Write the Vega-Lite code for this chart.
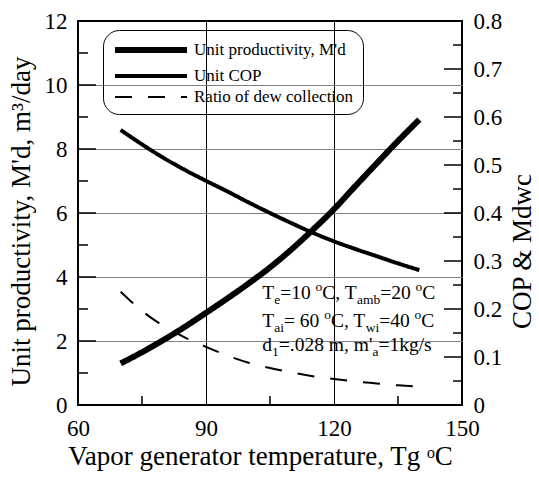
{
  "$schema": "https://vega.github.io/schema/vega-lite/v6.json",
  "width": 384,
  "height": 384,
  "autosize": {"type": "none"},
  "padding": {"left": 78, "top": 21, "right": 77, "bottom": 74},
  "config": {
    "font": "Liberation Serif",
    "background": "white",
    "view": {"stroke": "black", "strokeWidth": 2},
    "axis": {
      "domainColor": "black", "domainWidth": 2,
      "tickColor": "black", "tickWidth": 1.5,
      "labelColor": "black", "titleColor": "black",
      "labelFont": "Liberation Serif", "titleFont": "Liberation Serif",
      "labelFontSize": 23, "titleFontSize": 27, "titleFontWeight": "normal",
      "labelFlush": false, "labelOverlap": false
    },
    "text": {"font": "Liberation Serif"}
  },
  "datasets": {
    "curves": [
      {"T": 70, "series": "Unit productivity, M'd", "value": 1.30},
      {"T": 75, "series": "Unit productivity, M'd", "value": 1.65},
      {"T": 80, "series": "Unit productivity, M'd", "value": 2.03},
      {"T": 85, "series": "Unit productivity, M'd", "value": 2.44},
      {"T": 90, "series": "Unit productivity, M'd", "value": 2.88},
      {"T": 95, "series": "Unit productivity, M'd", "value": 3.33},
      {"T": 100, "series": "Unit productivity, M'd", "value": 3.80},
      {"T": 105, "series": "Unit productivity, M'd", "value": 4.30},
      {"T": 110, "series": "Unit productivity, M'd", "value": 4.86},
      {"T": 115, "series": "Unit productivity, M'd", "value": 5.47},
      {"T": 120, "series": "Unit productivity, M'd", "value": 6.12},
      {"T": 125, "series": "Unit productivity, M'd", "value": 6.84},
      {"T": 130, "series": "Unit productivity, M'd", "value": 7.55},
      {"T": 135, "series": "Unit productivity, M'd", "value": 8.25},
      {"T": 140, "series": "Unit productivity, M'd", "value": 8.92},
      {"T": 70, "series": "Unit COP", "value": 0.573},
      {"T": 75, "series": "Unit COP", "value": 0.543},
      {"T": 80, "series": "Unit COP", "value": 0.515},
      {"T": 85, "series": "Unit COP", "value": 0.490},
      {"T": 90, "series": "Unit COP", "value": 0.467},
      {"T": 95, "series": "Unit COP", "value": 0.445},
      {"T": 100, "series": "Unit COP", "value": 0.422},
      {"T": 105, "series": "Unit COP", "value": 0.400},
      {"T": 110, "series": "Unit COP", "value": 0.379},
      {"T": 115, "series": "Unit COP", "value": 0.359},
      {"T": 120, "series": "Unit COP", "value": 0.341},
      {"T": 125, "series": "Unit COP", "value": 0.325},
      {"T": 130, "series": "Unit COP", "value": 0.310},
      {"T": 135, "series": "Unit COP", "value": 0.295},
      {"T": 140, "series": "Unit COP", "value": 0.281},
      {"T": 70, "series": "Ratio of dew collection", "value": 0.236},
      {"T": 75, "series": "Ratio of dew collection", "value": 0.196},
      {"T": 80, "series": "Ratio of dew collection", "value": 0.165},
      {"T": 85, "series": "Ratio of dew collection", "value": 0.141},
      {"T": 90, "series": "Ratio of dew collection", "value": 0.121},
      {"T": 95, "series": "Ratio of dew collection", "value": 0.103},
      {"T": 100, "series": "Ratio of dew collection", "value": 0.088},
      {"T": 105, "series": "Ratio of dew collection", "value": 0.077},
      {"T": 110, "series": "Ratio of dew collection", "value": 0.068},
      {"T": 115, "series": "Ratio of dew collection", "value": 0.060},
      {"T": 120, "series": "Ratio of dew collection", "value": 0.054},
      {"T": 125, "series": "Ratio of dew collection", "value": 0.049},
      {"T": 130, "series": "Ratio of dew collection", "value": 0.045},
      {"T": 135, "series": "Ratio of dew collection", "value": 0.041},
      {"T": 140, "series": "Ratio of dew collection", "value": 0.038}
    ],
    "notes": [
      {"x": 103.2, "y": 3.31, "t": "T", "role": "m"},
      {"x": 105.99, "y": 3.31, "t": "e", "role": "sub"},
      {"x": 107.40, "y": 3.31, "t": "=10", "role": "m"},
      {"x": 115.68, "y": 3.31, "t": "o", "role": "sup"},
      {"x": 117.27, "y": 3.31, "t": "C, T", "role": "m"},
      {"x": 125.39, "y": 3.31, "t": "amb", "role": "sub"},
      {"x": 130.84, "y": 3.31, "t": "=20", "role": "m"},
      {"x": 139.13, "y": 3.31, "t": "o", "role": "sup"},
      {"x": 140.71, "y": 3.31, "t": "C", "role": "m"},
      {"x": 103.2, "y": 2.45, "t": "T", "role": "m"},
      {"x": 105.99, "y": 2.45, "t": "ai", "role": "sub"},
      {"x": 108.28, "y": 2.45, "t": "= 60", "role": "m"},
      {"x": 117.71, "y": 2.45, "t": "o", "role": "sup"},
      {"x": 119.29, "y": 2.45, "t": "C, T", "role": "m"},
      {"x": 127.42, "y": 2.45, "t": "wi", "role": "sub"},
      {"x": 130.58, "y": 2.45, "t": "=40", "role": "m"},
      {"x": 138.87, "y": 2.45, "t": "o", "role": "sup"},
      {"x": 140.45, "y": 2.45, "t": "C", "role": "m"},
      {"x": 103.2, "y": 1.69, "t": "d", "role": "m"},
      {"x": 105.49, "y": 1.69, "t": "1", "role": "sub"},
      {"x": 107.07, "y": 1.69, "t": "=.028 m, m'", "role": "m"},
      {"x": 129.0, "y": 1.69, "t": "a", "role": "sub"},
      {"x": 130.41, "y": 1.69, "t": "=1kg/s", "role": "m"}
    ],
    "ticks": [
      {"side": "left", "kind": "major", "v": 2},
      {"side": "left", "kind": "major", "v": 4},
      {"side": "left", "kind": "major", "v": 6},
      {"side": "left", "kind": "major", "v": 8},
      {"side": "left", "kind": "major", "v": 10},
      {"side": "left", "kind": "minor", "v": 1},
      {"side": "left", "kind": "minor", "v": 3},
      {"side": "left", "kind": "minor", "v": 5},
      {"side": "left", "kind": "minor", "v": 7},
      {"side": "left", "kind": "minor", "v": 9},
      {"side": "left", "kind": "minor", "v": 11},
      {"side": "bottom", "kind": "minor", "v": 75},
      {"side": "bottom", "kind": "minor", "v": 105},
      {"side": "bottom", "kind": "minor", "v": 135},
      {"side": "right", "kind": "major", "v": 0.1},
      {"side": "right", "kind": "major", "v": 0.2},
      {"side": "right", "kind": "major", "v": 0.3},
      {"side": "right", "kind": "major", "v": 0.4},
      {"side": "right", "kind": "major", "v": 0.5},
      {"side": "right", "kind": "major", "v": 0.6},
      {"side": "right", "kind": "major", "v": 0.7},
      {"side": "right", "kind": "minor", "v": 0.05},
      {"side": "right", "kind": "minor", "v": 0.15},
      {"side": "right", "kind": "minor", "v": 0.25},
      {"side": "right", "kind": "minor", "v": 0.35},
      {"side": "right", "kind": "minor", "v": 0.45},
      {"side": "right", "kind": "minor", "v": 0.55},
      {"side": "right", "kind": "minor", "v": 0.65},
      {"side": "right", "kind": "minor", "v": 0.75}
    ]
  },
  "layer": [
    {
      "layer": [
        {
          "data": {"name": "curves"},
          "transform": [{"filter": {"field": "series", "equal": "Unit productivity, M'd"}}],
          "mark": {"type": "line", "interpolate": "monotone", "stroke": "black"},
          "encoding": {
            "x": {
              "field": "T", "type": "quantitative",
              "scale": {"domain": [60, 150], "nice": false},
              "axis": {
                "orient": "bottom",
                "values": [60, 90, 120, 150],
                "ticks": false, "tickSize": 0, "labelPadding": 12,
                "domain": false, "grid": false,
                "title": "Vapor generator temperature, Tg ᵒC",
                "titlePadding": 3, "titleX": 182
              }
            },
            "y": {
              "field": "value", "type": "quantitative",
              "scale": {"domain": [0, 12], "nice": false},
              "axis": {
                "orient": "left",
                "values": [0, 2, 4, 6, 8, 10, 12],
                "ticks": false, "tickSize": 0, "labelPadding": 11,
                "domain": false, "grid": false,
                "title": "Unit productivity, M'd, m³/day",
                "titlePadding": 9, "titleY": 200
              }
            },
            "strokeWidth": {
              "field": "series", "type": "nominal",
              "scale": {"domain": ["Unit productivity, M'd", "Unit COP", "Ratio of dew collection"], "range": [6, 2, 2]},
              "legend": {
                "orient": "none", "legendX": 25, "legendY": 9, "title": null,
                "symbolType": "M-4.5,0H4.5", "symbolSize": 256, "symbolOffset": 28, "symbolStrokeColor": "black", "symbolFillColor": "transparent",
                "labelFont": "Liberation Serif", "labelFontSize": 17, "labelColor": "black", "labelLimit": 400, "labelOffset": 32,
                "strokeColor": "black", "cornerRadius": 16, "padding": 9, "rowPadding": 4
              }
            },
            "strokeDash": {
              "field": "series", "type": "nominal",
              "scale": {"domain": ["Unit productivity, M'd", "Unit COP", "Ratio of dew collection"], "range": [[1, 0], [1, 0], [17, 16]]},
              "legend": {
                "orient": "none", "legendX": 25, "legendY": 9, "title": null,
                "symbolType": "M-4.5,0H4.5", "symbolSize": 256, "symbolOffset": 28, "symbolStrokeColor": "black", "symbolFillColor": "transparent",
                "labelFont": "Liberation Serif", "labelFontSize": 17, "labelColor": "black", "labelLimit": 400, "labelOffset": 32,
                "strokeColor": "black", "cornerRadius": 16, "padding": 9, "rowPadding": 4
              }
            }
          }
        },
        {
          "data": {"name": "notes"},
          "transform": [{"filter": {"field": "role", "equal": "m"}}],
          "mark": {"type": "text", "align": "left", "baseline": "alphabetic", "fontSize": 19.5, "fill": "black"},
          "encoding": {
            "x": {
              "field": "x", "type": "quantitative", "scale": {"domain": [60, 150], "nice": false},
              "axis": {"orient": "bottom", "values": [90, 120], "labels": false, "ticks": false, "domain": false, "grid": true, "gridColor": "black", "gridWidth": 1, "title": null}
            },
            "y": {
              "field": "y", "type": "quantitative", "scale": {"domain": [0, 12], "nice": false},
              "axis": {"orient": "left", "values": [2, 4, 6, 8, 10], "labels": false, "ticks": false, "domain": false, "grid": true, "gridColor": "#808080", "gridWidth": 1.2, "title": null}
            },
            "text": {"field": "t"}
          }
        },
        {
          "data": {"name": "notes"},
          "transform": [{"filter": {"field": "role", "equal": "sub"}}],
          "mark": {"type": "text", "align": "left", "baseline": "alphabetic", "fontSize": 13.5, "dy": 5, "fill": "black"},
          "encoding": {
            "x": {"field": "x", "type": "quantitative", "scale": {"domain": [60, 150], "nice": false}, "axis": null},
            "y": {"field": "y", "type": "quantitative", "scale": {"domain": [0, 12], "nice": false}, "axis": null},
            "text": {"field": "t"}
          }
        },
        {
          "data": {"name": "notes"},
          "transform": [{"filter": {"field": "role", "equal": "sup"}}],
          "mark": {"type": "text", "align": "left", "baseline": "alphabetic", "fontSize": 13.5, "dy": -8, "fill": "black"},
          "encoding": {
            "x": {"field": "x", "type": "quantitative", "scale": {"domain": [60, 150], "nice": false}, "axis": null},
            "y": {"field": "y", "type": "quantitative", "scale": {"domain": [0, 12], "nice": false}, "axis": null},
            "text": {"field": "t"}
          }
        },
        {
          "data": {"name": "ticks"},
          "transform": [{"filter": "datum.side === 'left' && datum.kind === 'major'"}],
          "mark": {"type": "tick", "orient": "horizontal", "size": 36, "thickness": 1.5, "color": "black", "opacity": 1, "clip": true},
          "encoding": {
            "x": {"datum": 60, "type": "quantitative", "scale": {"domain": [60, 150], "nice": false}, "axis": null},
            "y": {"field": "v", "type": "quantitative", "scale": {"domain": [0, 12], "nice": false}, "axis": null}
          }
        },
        {
          "data": {"name": "ticks"},
          "transform": [{"filter": "datum.side === 'left' && datum.kind === 'minor'"}],
          "mark": {"type": "tick", "orient": "horizontal", "size": 20, "thickness": 1.5, "color": "black", "opacity": 1, "clip": true},
          "encoding": {
            "x": {"datum": 60, "type": "quantitative", "scale": {"domain": [60, 150], "nice": false}, "axis": null},
            "y": {"field": "v", "type": "quantitative", "scale": {"domain": [0, 12], "nice": false}, "axis": null}
          }
        },
        {
          "data": {"name": "ticks"},
          "transform": [{"filter": "datum.side === 'bottom'"}],
          "mark": {"type": "tick", "orient": "vertical", "size": 18, "thickness": 1.5, "color": "black", "opacity": 1, "clip": true},
          "encoding": {
            "x": {"field": "v", "type": "quantitative", "scale": {"domain": [60, 150], "nice": false}, "axis": null},
            "y": {"datum": 0, "type": "quantitative", "scale": {"domain": [0, 12], "nice": false}, "axis": null}
          }
        }
      ],
      "resolve": {"axis": {"x": "independent", "y": "independent"}}
    },
    {
      "layer": [
        {
          "data": {"name": "curves"},
          "transform": [{"filter": {"field": "series", "oneOf": ["Unit COP", "Ratio of dew collection"]}}],
          "mark": {"type": "line", "interpolate": "monotone", "stroke": "black"},
          "encoding": {
            "x": {"field": "T", "type": "quantitative", "scale": {"domain": [60, 150], "nice": false}, "axis": null},
            "y": {
              "field": "value", "type": "quantitative",
              "scale": {"domain": [0, 0.8], "nice": false},
              "axis": {
                "orient": "right",
                "values": [0, 0.1, 0.2, 0.3, 0.4, 0.5, 0.6, 0.7, 0.8],
                "format": ".1~f",
                "ticks": false, "tickSize": 0, "labelPadding": 11,
                "domain": false, "grid": false,
                "title": "COP & Mdwc",
                "titleAngle": 270,
                "titleBaseline": "top",
                "titleY": 230,
                "titlePadding": 8
              }
            },
            "strokeWidth": {
              "field": "series", "type": "nominal",
              "scale": {"domain": ["Unit productivity, M'd", "Unit COP", "Ratio of dew collection"], "range": [6, 2, 2]},
              "legend": {
                "orient": "none", "legendX": 25, "legendY": 9, "title": null,
                "symbolType": "M-4.5,0H4.5", "symbolSize": 256, "symbolOffset": 28, "symbolStrokeColor": "black", "symbolFillColor": "transparent",
                "labelFont": "Liberation Serif", "labelFontSize": 17, "labelColor": "black", "labelLimit": 400, "labelOffset": 32,
                "strokeColor": "black", "cornerRadius": 16, "padding": 9, "rowPadding": 4
              }
            },
            "strokeDash": {
              "field": "series", "type": "nominal",
              "scale": {"domain": ["Unit productivity, M'd", "Unit COP", "Ratio of dew collection"], "range": [[1, 0], [1, 0], [17, 16]]},
              "legend": {
                "orient": "none", "legendX": 25, "legendY": 9, "title": null,
                "symbolType": "M-4.5,0H4.5", "symbolSize": 256, "symbolOffset": 28, "symbolStrokeColor": "black", "symbolFillColor": "transparent",
                "labelFont": "Liberation Serif", "labelFontSize": 17, "labelColor": "black", "labelLimit": 400, "labelOffset": 32,
                "strokeColor": "black", "cornerRadius": 16, "padding": 9, "rowPadding": 4
              }
            }
          }
        },
        {
          "data": {"name": "ticks"},
          "transform": [{"filter": "datum.side === 'right' && datum.kind === 'major'"}],
          "mark": {"type": "tick", "orient": "horizontal", "size": 36, "thickness": 1.5, "color": "black", "opacity": 1, "clip": true},
          "encoding": {
            "x": {"datum": 150, "type": "quantitative", "scale": {"domain": [60, 150], "nice": false}, "axis": null},
            "y": {"field": "v", "type": "quantitative", "scale": {"domain": [0, 0.8], "nice": false}, "axis": null}
          }
        },
        {
          "data": {"name": "ticks"},
          "transform": [{"filter": "datum.side === 'right' && datum.kind === 'minor'"}],
          "mark": {"type": "tick", "orient": "horizontal", "size": 18, "thickness": 1.5, "color": "black", "opacity": 1, "clip": true},
          "encoding": {
            "x": {"datum": 150, "type": "quantitative", "scale": {"domain": [60, 150], "nice": false}, "axis": null},
            "y": {"field": "v", "type": "quantitative", "scale": {"domain": [0, 0.8], "nice": false}, "axis": null}
          }
        }
      ],
      "resolve": {"axis": {"y": "independent"}}
    }
  ],
  "resolve": {"scale": {"y": "independent"}, "axis": {"x": "independent"}}
}
